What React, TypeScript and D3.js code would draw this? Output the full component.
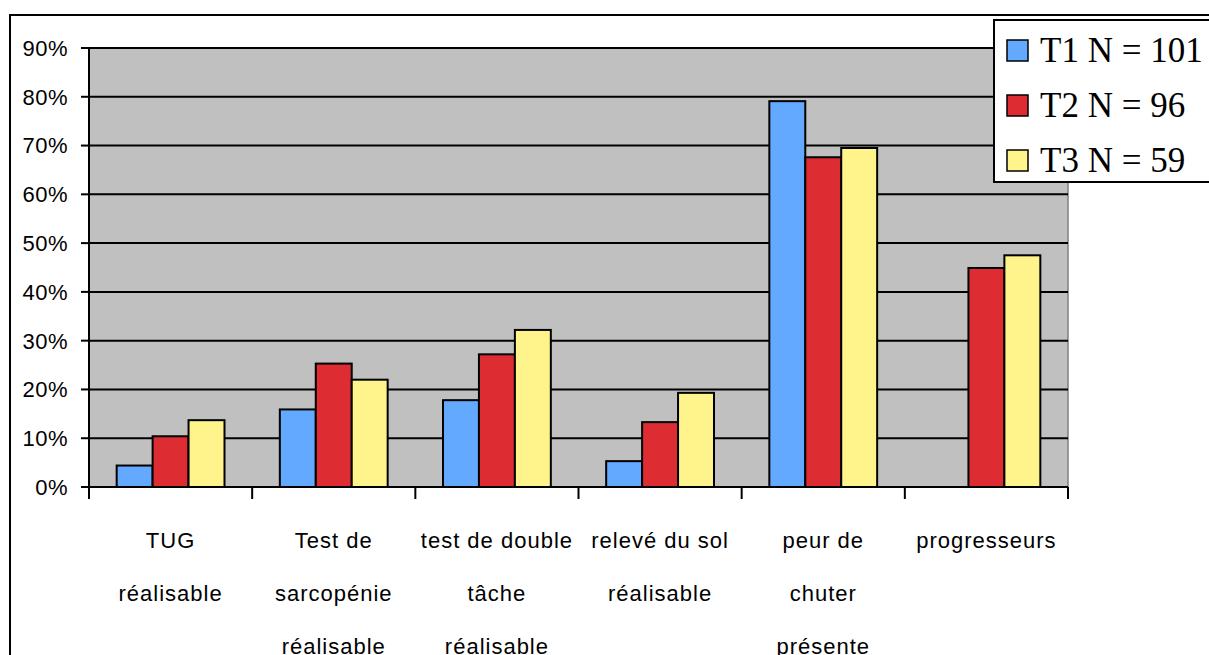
import React from 'react';
import * as d3 from 'd3';

// categories, with their wrapped label lines
const categories = ['TUG', 'sarco', 'double', 'releve', 'peur', 'prog'];
const categoryLines = [
    ['TUG', 'réalisable'],
    ['Test de', 'sarcopénie', 'réalisable'],
    ['test de double', 'tâche', 'réalisable'],
    ['relevé du sol', 'réalisable'],
    ['peur de', 'chuter', 'présente'],
    ['progresseurs'],
];

const seriesNames = ['T1 N = 101', 'T2 N = 96', 'T3 N = 59'];
const seriesColors = ['#63A9FF', '#DD2D33', '#FFF48C'];

// values in fraction, null = no bar
const t1 = [0.044, 0.159, 0.178, 0.053, 0.791, null];
const t2 = [0.104, 0.253, 0.272, 0.133, 0.676, 0.449];
const t3 = [0.137, 0.22, 0.322, 0.193, 0.695, 0.475];
const seriesValues = [t1, t2, t3];

const yTicks = [0, 0.1, 0.2, 0.3, 0.4, 0.5, 0.6, 0.7, 0.8, 0.9];

const W = 1209;
const H = 655;
const plot = { left: 89, right: 1068, top: 48, bottom: 487 };

export default function App() {
    const x = d3.scaleBand<string>()
        .domain(categories)
        .range([plot.left, plot.right])
        .paddingInner(0)
        .paddingOuter(0);

    const xs = d3.scaleBand<string>()
        .domain(seriesNames)
        .range([0, x.bandwidth()])
        .paddingInner(0)
        .paddingOuter(0.77);

    const y = d3.scaleLinear().domain([0, 0.9]).range([plot.bottom, plot.top]);
    const fmt = d3.format('.0%');

    const sans = 'Arial, "Liberation Sans", sans-serif';
    const serif = '"Times New Roman", "Liberation Serif", serif';

    return (
        <svg width={W} height={H} style={{ position: 'absolute', left: 0, top: 0, display: 'block', background: '#fff' }}>
            {/* chart border */}
            <rect x={10} y={15} width={W + 20} height={H + 20} fill="#fff" stroke="#000" strokeWidth={2} />

            {/* plot area */}
            <rect x={plot.left} y={plot.top} width={plot.right - plot.left} height={plot.bottom - plot.top}
                fill="#C0C0C0" stroke="#808080" strokeWidth={1.5} />

            {/* gridlines */}
            {yTicks.slice(1).map(t => (
                <line key={t} x1={plot.left} x2={plot.right} y1={y(t)} y2={y(t)} stroke="#000" strokeWidth={2} />
            ))}

            {/* bars */}
            {categories.map((c, ci) => (
                <g key={c} transform={`translate(${x(c)},0)`}>
                    {seriesNames.map((s, si) => {
                        const v = seriesValues[si][ci];
                        if (v == null) return null;
                        return (
                            <rect key={s} x={xs(s)} y={y(v)} width={xs.bandwidth()} height={y(0) - y(v)}
                                fill={seriesColors[si]} stroke="#000" strokeWidth={2} />
                        );
                    })}
                </g>
            ))}

            {/* y axis */}
            <line x1={plot.left} x2={plot.left} y1={plot.top} y2={plot.bottom} stroke="#000" strokeWidth={2} />
            {yTicks.map(t => (
                <g key={t} transform={`translate(0,${y(t)})`}>
                    <line x1={plot.left - 8} x2={plot.left} stroke="#000" strokeWidth={2} />
                    <text x={68} dy="0.36em" textAnchor="end" fontFamily={sans} fontSize={22} letterSpacing={0.5} fill="#000">{fmt(t)}</text>
                </g>
            ))}

            {/* x axis */}
            <line x1={plot.left} x2={plot.right} y1={plot.bottom} y2={plot.bottom} stroke="#000" strokeWidth={2} />
            {[...categories.map(c => x(c)!), plot.right].map((px, i) => (
                <line key={i} x1={px} x2={px} y1={plot.bottom} y2={plot.bottom + 12} stroke="#000" strokeWidth={2} />
            ))}
            {categories.map((c, ci) => (
                <text key={c} textAnchor="middle" fontFamily={sans} fontSize={22} letterSpacing={1} fill="#000">
                    {categoryLines[ci].map((line, li) => (
                        <tspan key={li} x={x(c)! + x.bandwidth() / 2} y={548 + li * 53}>{line}</tspan>
                    ))}
                </text>
            ))}

            {/* legend */}
            <rect x={994} y={20} width={230} height={162} fill="#fff" stroke="#000" strokeWidth={2} />
            {seriesNames.map((s, i) => (
                <g key={s} transform={`translate(1007,${51 + i * 55})`}>
                    <rect x={0} y={-11} width={21} height={21} fill={seriesColors[i]} stroke="#000" strokeWidth={1.5} />
                    <text x={33} y={11} fontFamily={serif} fontSize={35} fill="#000">{s}</text>
                </g>
            ))}
        </svg>
    );
}
